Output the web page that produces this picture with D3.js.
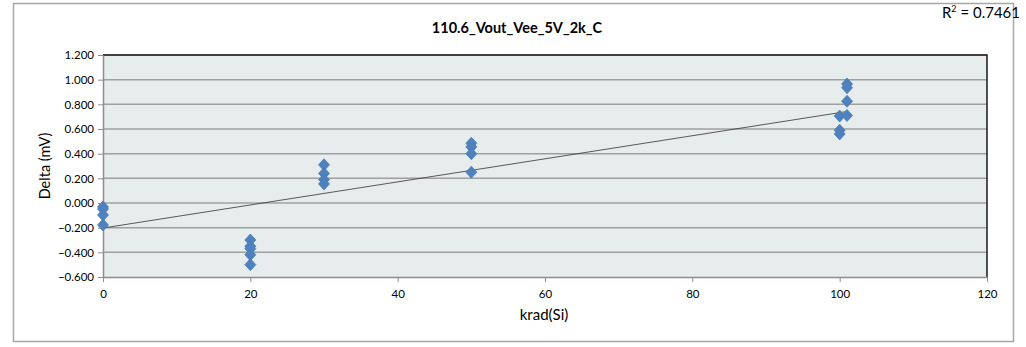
<!DOCTYPE html>
<html><head><meta charset="utf-8">
<script src="https://cdn.jsdelivr.net/npm/d3@7"></script>
<style>body{margin:0;background:#fff}svg{display:block}text{font-family:Lato,"Liberation Sans",sans-serif;fill:#000}</style>
</head><body><svg id="c" width="1026" height="347"></svg>
<script>
const xValues = [0,0,0,0, 20,20,20,20,20, 30,30,30,30, 50,50,50,50, 100,100,100, 101,101,101,101];
const yValues = [-0.032,-0.049,-0.097,-0.178, -0.30,-0.35,-0.37,-0.42,-0.50, 0.31,0.24,0.19,0.155, 0.485,0.455,0.40,0.25, 0.705,0.59,0.56, 0.965,0.935,0.825,0.71];
const trendX = [0, 101];
const trendY = [-0.203, 0.742];
const xTicks = [0,20,40,60,80,100,120];
const yTicks = [-0.6,-0.4,-0.2,0,0.2,0.4,0.6,0.8,1.0,1.2];
const title = "110.6_Vout_Vee_5V_2k_C";
const xLabel = "krad(Si)";
const yLabel = "Delta (mV)";

const svg = d3.select("#c");
const L=103, R=987, T=55, B=277;
const x = d3.scaleLinear().domain([0,120]).range([L,R]);
const y = d3.scaleLinear().domain([-0.6,1.2]).range([B,T]);

svg.append("rect").attr("x",13.5).attr("y",3.5).attr("width",1000).attr("height",338)
  .attr("fill","#fff").attr("stroke","#a6a6a6").attr("stroke-width",1.5);

svg.append("rect").attr("x",L).attr("y",T).attr("width",R-L).attr("height",B-T).attr("fill","#e7ecec");
svg.append("g").selectAll("line").data(yTicks.filter(v=>v>-0.6)).join("line")
  .attr("x1",L).attr("x2",R).attr("y1",d=>y(d)).attr("y2",d=>y(d))
  .attr("stroke","#a0a0a0").attr("stroke-width",1.5);
svg.append("path").attr("d",`M${L},${T}H${R}V${B}`).attr("fill","none").attr("stroke","#1a1a1a").attr("stroke-width",1.5);

const yAxis = d3.axisLeft(y).tickValues(yTicks).tickFormat(d3.format(".3f")).tickSize(5).tickSizeOuter(0);
const gy = svg.append("g").attr("transform",`translate(${L},0)`).call(yAxis);
gy.selectAll("text").attr("font-size",11.5).attr("x",-9);
const xAxis = d3.axisBottom(x).tickValues(xTicks).tickFormat(d3.format("d")).tickSize(5).tickSizeOuter(0);
const gx = svg.append("g").attr("transform",`translate(0,${B})`).call(xAxis);
gx.selectAll("text").attr("font-size",11.5).attr("dy","1.15em");
[gx,gy].forEach(g=>{g.select(".domain").attr("stroke","#8c8c8c").attr("stroke-width",1.5);
  g.selectAll(".tick line").attr("stroke","#8c8c8c");
  g.selectAll("text").style("font-family","Lato,'Liberation Sans',sans-serif").attr("fill","#000");});

svg.append("line").attr("x1",x(trendX[0])).attr("y1",y(trendY[0])).attr("x2",x(trendX[1])).attr("y2",y(trendY[1]))
  .attr("stroke","#333").attr("stroke-width",0.8);

const pts = xValues.map((v,i)=>({x:v,y:yValues[i]}));
svg.append("g").selectAll("path").data(pts).join("path")
  .attr("d",d=>{const cx=x(d.x), cy=y(d.y), w=5.5, h=6;return `M${cx},${cy-h}L${cx+w},${cy}L${cx},${cy+h}L${cx-w},${cy}Z`;})
  .attr("fill","#4f81bd").attr("stroke","#4a7ebb").attr("stroke-width",0.8);

svg.append("text").attr("x",517).attr("y",33).attr("text-anchor","middle").attr("font-size",14.5).attr("font-weight","bold").text(title);
svg.append("text").attr("x",544).attr("y",320).attr("text-anchor","middle").attr("font-size",15).text(xLabel);
svg.append("text").attr("transform","translate(50,166) rotate(-90)").attr("text-anchor","middle").attr("font-size",14.5).text(yLabel);
const r2 = svg.append("text").attr("x",1020).attr("y",18).attr("text-anchor","end").attr("font-size",15);
r2.append("tspan").text("R");
r2.append("tspan").attr("font-size",9).attr("dy",-6).text("2");
r2.append("tspan").attr("dy",6).text(" = 0.7461");
</script></body></html>
